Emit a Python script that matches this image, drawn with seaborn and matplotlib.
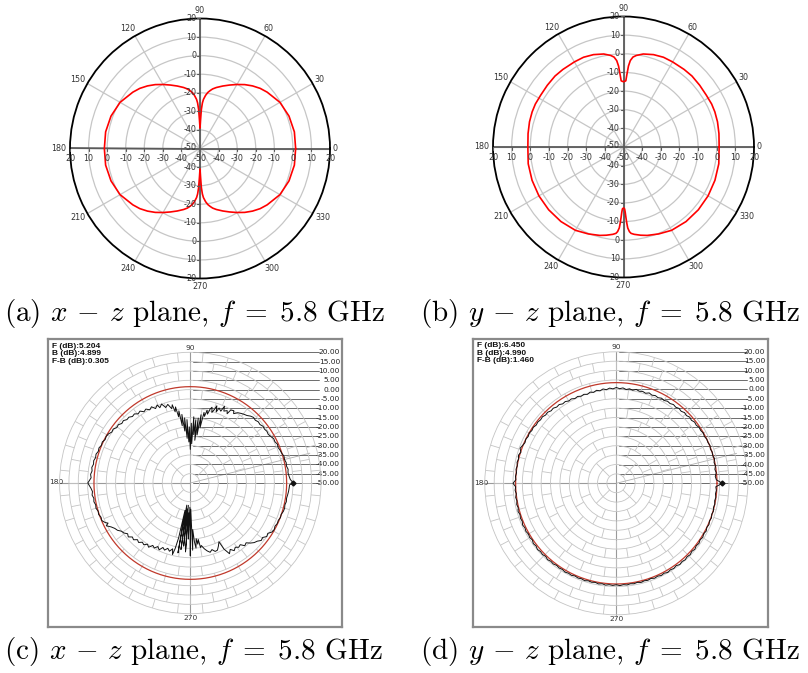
import numpy as np
import matplotlib
matplotlib.use("Agg")
import matplotlib.pyplot as plt
import pandas as pd
import seaborn as sns

sns.set_style("white")
plt.rcParams["font.family"] = ["DejaVu Sans"]
plt.rcParams["mathtext.fontset"] = "cm"
plt.rcParams["axes.unicode_minus"] = False

# ---------------- simulated patterns (dB) ----------------
# x-z plane: one quadrant, the pattern is symmetric about both axes
xz_sim_deg = [0, 10, 20, 30, 40, 45, 50, 55, 60, 65, 70, 75, 78, 80, 82, 84,
              86, 87, 88, 89, 90]
xz_sim_db = [1.5, 1.6, 1.0, -0.3, -2.8, -4.2, -6.0, -8.0, -10.2, -12.3, -14.2,
             -16.0, -17.2, -18.3, -19.5, -21.2, -23.5, -25.5, -29.0, -35.0, -39.0]

# y-z plane: upper right and lower right quadrants (mirror about the vertical axis)
yz_sim_up_deg = [0, 8, 15, 21, 26, 32, 39, 46, 52, 60, 66, 72, 78, 82, 84,
                 85.5, 86.5, 87.3, 88, 90]
yz_sim_up_db = [1.3, 1.7, 2.2, 2.5, 2.6, 2.4, 2.6, 2.9, 2.8, 2.7, 2.7, 2.1, 1.0,
                -0.4, -1.5, -3.5, -6.5, -11.0, -14.5, -15.0]
yz_sim_dn_deg = [360, 350, 340, 330, 320, 310, 300, 292, 285, 281, 277, 275,
                 274, 273, 272.5, 272, 271.5, 271, 270]
yz_sim_dn_db = [1.3, 1.9, 2.2, 2.4, 2.4, 2.2, 1.6, 0.3, -0.9, -1.8, -2.8, -3.5,
                -4.5, -6.5, -9.0, -12.0, -15.0, -16.8, -17.3]

# ---------------- measured patterns (dB) ----------------
xz_meas_deg = [0, 2, 4, 6, 8, 10, 12, 14, 16, 18,
               20, 22, 24, 26, 28, 30, 32, 34, 36, 38,
               40, 42, 44, 46, 48, 50, 52, 54, 56, 58,
               59, 61, 62, 63, 65, 66, 67, 69, 70, 71,
               72, 73, 74, 75, 76, 77, 78, 79, 80, 81,
               82, 83, 84, 85, 86, 87, 88, 89, 90, 91,
               92, 93, 94, 95, 96, 97, 98, 99, 100, 101,
               102, 103, 104, 106, 108, 110, 112, 113, 115, 117,
               119, 121, 123, 125, 127, 129, 131, 133, 135, 137,
               139, 141, 143, 145, 147, 149, 151, 153, 155, 157,
               159, 161, 163, 165, 167, 169, 171, 173, 175, 177,
               180, 183, 185, 187, 189, 191, 193, 195, 197, 199,
               201, 203, 205, 206, 207, 209, 211, 213, 215, 217,
               219, 221, 223, 225, 227, 229, 231, 233, 235, 237,
               239, 241, 243, 245, 247, 249, 251, 253, 255, 256,
               257, 258, 259, 260, 261, 262, 263, 264, 265, 266,
               267, 268, 269, 270, 271, 272, 273, 274, 275, 276,
               277, 278, 279, 280, 282, 284, 286, 288, 290, 292,
               294, 296, 297, 299, 301, 303, 305, 307, 309, 311,
               313, 315, 317, 319, 321, 323, 325, 327, 329, 331,
               333, 335, 337, 339, 341, 343, 345, 347, 349, 351,
               353, 355, 357, 359, 360]
xz_meas_db = [5.2, 3.6, 3.0, 2.6, 2.9, 2.3, 2.5, 2.0, 2.2, 1.5,
              1.2, 0.7, 1.1, 0.4, 0.6, -0.2, -0.8, -0.5, -0.9, -0.6,
              -1.3, -1.0, -1.6, -1.2, -1.8, -2.8, -3.3, -3.9, -4.6, -6.2,
              -4.8, -5.3, -8.0, -6.5, -7.5, -5.0, -8.2, -7.0, -9.5, -6.3,
              -8.8, -10.5, -7.8, -9.0, -12.0, -10.0, -13.5, -11.5, -20.0, -13.0,
              -24.0, -15.0, -27.0, -16.0, -24.0, -14.5, -29.0, -18.0, -32.0, -20.0,
              -28.0, -16.0, -26.0, -15.0, -22.0, -13.0, -19.0, -11.0, -14.0, -8.5,
              -11.0, -7.0, -9.0, -6.2, -7.5, -5.0, -6.5, -4.6, -6.0, -4.2,
              -5.2, -3.8, -4.5, -3.0, -3.6, -2.4, -2.8, -1.8, -2.0, -1.0,
              -1.4, -0.4, -0.7, 0.4, 0.1, 1.1, 1.5, 1.2, 2.0, 1.7,
              2.4, 2.1, 2.8, 2.5, 3.1, 2.8, 3.4, 3.0, 3.6, 3.2,
              4.9, 3.3, 2.6, 3.0, 2.3, 2.6, 2.0, 2.3, 1.6, 1.9,
              1.2, 1.5, 0.2, -1.0, 0.5, -1.5, -2.8, -3.5, -5.0, -5.5,
              -6.8, -6.0, -7.6, -7.0, -8.5, -7.8, -9.2, -8.6, -10.0, -9.0,
              -11.0, -10.2, -11.8, -10.5, -12.5, -11.5, -13.0, -11.8, -13.5, -10.5,
              -14.0, -20.0, -35.0, -12.0, -38.0, -14.0, -36.0, -16.0, -38.0, -13.0,
              -34.0, -20.0, -37.0, -11.0, -36.0, -14.0, -25.0, -18.5, -15.0, -20.0,
              -17.0, -19.5, -15.0, -16.0, -14.0, -12.5, -11.4, -12.5, -11.0, -11.2,
              -13.0, -15.0, -10.3, -6.7, -8.5, -6.8, -8.0, -6.9, -7.5, -5.5,
              -6.2, -4.5, -3.2, -2.5, -1.1, -1.5, 0.0, -0.5, 1.0, 1.4,
              0.9, 1.4, 1.2, 1.7, 1.5, 2.1, 2.3, 2.0, 2.4, 2.2,
              2.5, 2.8, 3.0, 3.2, 5.2]

yz_meas_deg = list(range(0, 362, 2))
yz_meas_db = [6.45, 3.3, 2.8, 3.5, 3.0, 3.6, 3.2, 3.9, 3.4, 3.7,
              3.3, 3.8, 3.4, 3.6, 3.1, 3.5, 3.0, 3.2, 2.6, 2.9,
              2.2, 2.6, 1.9, 2.3, 1.6, 2.0, 1.4, 1.8, 1.2, 1.5,
              0.9, 1.3, 0.7, 1.1, 0.6, 1.2, 0.4, 0.9, 0.5, 1.1,
              0.3, 0.8, 0.2, 0.9, 0.4, 1.0, 0.3, 0.8, 0.1, 0.7,
              0.0, 0.6, -0.1, 0.5, -0.2, 0.4, 0.0, 0.6, 0.2, 0.9,
              0.6, 1.3, 1.0, 1.8, 1.5, 2.2, 1.9, 2.6, 2.3, 2.9,
              2.6, 3.0, 2.7, 3.3, 3.0, 3.5, 3.1, 3.6, 3.2, 3.8,
              4.5, 3.4, 4.2, 3.6, 4.0, 3.5, 3.9, 3.4, 3.8, 3.5,
              4.99, 3.6, 4.0, 3.5, 4.1, 3.7, 4.2, 3.8, 4.4, 3.9,
              4.3, 4.0, 4.6, 4.1, 4.5, 4.0, 4.4, 3.9, 4.6, 4.2,
              4.8, 4.3, 4.6, 4.1, 4.7, 4.2, 4.5, 4.0, 4.4, 4.1,
              4.6, 4.2, 4.5, 4.0, 4.4, 4.1, 4.5, 4.0, 4.3, 3.9,
              4.4, 4.0, 4.5, 4.1, 4.4, 4.0, 4.5, 4.1, 4.4, 4.0,
              4.3, 3.9, 4.4, 4.0, 4.3, 3.9, 4.5, 4.1, 4.6, 4.2,
              4.8, 4.3, 4.7, 4.2, 4.9, 4.4, 4.8, 4.3, 4.7, 4.1,
              4.6, 4.0, 4.4, 3.8, 4.3, 3.7, 4.2, 3.6, 4.0, 3.5,
              3.9, 3.4, 3.8, 3.3, 3.6, 3.2, 3.5, 3.1, 3.4, 3.0,
              6.45]

# reference circles and summary values printed by the measurement software
xz_ref_db = 1.6
yz_ref_db = 3.6
xz_summary = ["F (dB):5.204", "B (dB):4.899", "F-B (dB):0.305"]
yz_summary = ["F (dB):6.450", "B (dB):4.990", "F-B (dB):1.460"]
meas_scale = [20, 15, 10, 5, 0, -5, -10, -15, -20, -25, -30, -35, -40, -45, -50]
sim_rings = [-40, -30, -20, -10, 0, 10, 20]

captions = [r"(a) $x\,-\,z$ plane, $f\;=\;5.8$ GHz",
            r"(b) $y\,-\,z$ plane, $f\;=\;5.8$ GHz",
            r"(c) $x\,-\,z$ plane, $f\;=\;5.8$ GHz",
            r"(d) $y\,-\,z$ plane, $f\;=\;5.8$ GHz"]

W, H = 808, 673
fig = plt.figure(figsize=(W / 100, H / 100), dpi=100)


def rect_px(x0, y0, w, h):
    return [x0 / W, 1 - (y0 + h) / H, w / W, h / H]


def quad_mirror_full(deg, db):
    """Full 0-360 trace from a first-quadrant trace symmetric about both axes."""
    d = np.asarray(deg, float)
    g = np.asarray(db, float)
    q2d, q2g = 180 - d[::-1], g[::-1]
    q3d, q3g = 180 + d, g
    q4d, q4g = 360 - d[::-1], g[::-1]
    return (np.concatenate([d, q2d, q3d, q4d]),
            np.concatenate([g, q2g, q3g, q4g]))


def half_mirror(up_deg, up_db, dn_deg, dn_db):
    """Full trace from right-hand quadrants, mirrored about the vertical axis."""
    ud = np.asarray(up_deg, float)
    ug = np.asarray(up_db, float)
    dd = np.asarray(dn_deg, float)
    dg = np.asarray(dn_db, float)
    deg = np.concatenate([ud, 180 - ud[::-1], 180 + (360 - dd), dd[::-1]])
    db = np.concatenate([ug, ug[::-1], dg, dg[::-1]])
    return deg, db


def draw_trace(ax, deg, db, color, lw):
    df = pd.DataFrame({"theta": np.deg2rad(deg), "gain": db})
    sns.lineplot(data=df, x="theta", y="gain", ax=ax, sort=False,
                 estimator=None, color=color, lw=lw, legend=False)
    ax.set_xlabel("")
    ax.set_ylabel("")


# ---------------- simulated panels ----------------
def sim_panel(cx, cy, R, deg, db):
    rect = rect_px(cx - R, cy - R, 2 * R, 2 * R)
    ax = fig.add_axes(rect, projection="polar")
    ax.set_ylim(-50, 20)
    ax.set_yticks(sim_rings[:-1])
    ax.set_xticks(np.deg2rad(np.arange(0, 360, 30)))
    ax.set_xticklabels([])
    ax.set_yticklabels([])
    ax.grid(True, color="#c6c6c6", lw=0.9)
    ax.spines["polar"].set_color("black")
    ax.spines["polar"].set_linewidth(1.3)
    ax.vlines(np.deg2rad([0, 90, 180, 270]), -50, 20, color="#5a5a5a",
              lw=1.3, zorder=2)
    draw_trace(ax, deg, db, "#ff0000", 1.2)
    for a in range(0, 360, 30):
        t = np.deg2rad(a)
        lab = str(a)
        ox = 8 * np.cos(t) + np.sign(round(np.cos(t), 3)) * 3 * (len(lab) - 2)
        oy = 8 * np.sin(t)
        ax.annotate(lab, xy=(t, 20), xytext=(ox, oy), textcoords="offset pixels",
                    ha="center", va="center", fontsize=5.8, color="#333333",
                    annotation_clip=False)
    ov = fig.add_axes(rect)
    ov.set_xlim(-70, 70)
    ov.set_ylim(-70, 70)
    ov.axis("off")
    ov.patch.set_alpha(0)
    tk = dict(color="#5a5a5a", lw=0.8)
    txt = dict(fontsize=5.8, color="#333333")
    for v in sim_rings:
        d = v + 50
        for s in (-1, 1):
            ov.plot([s * d, s * d], [0, -1.4], **tk)
            ov.plot([0, -1.4], [s * d, s * d], **tk)
            ov.text(s * d, -3.0, str(v), ha="center", va="top", **txt)
            ov.text(-2.0, s * d, str(v), ha="right", va="center", **txt)
    ov.text(0, -3.0, "-50", ha="center", va="top", **txt)
    ov.text(-2.0, 0.8, "-50", ha="right", va="center", **txt)


d_a, g_a = quad_mirror_full(xz_sim_deg, xz_sim_db)
sim_panel(200, 148.5, 130, d_a, g_a)
d_b, g_b = half_mirror(yz_sim_up_deg, yz_sim_up_db, yz_sim_dn_deg, yz_sim_dn_db)
sim_panel(623.5, 147, 130.5, d_b, g_b)


# ---------------- measured panels ----------------
def meas_panel(cx, cy, R, fx0, fy0, fx1, fy1, lab_right, line_end,
               deg, db, ref_db, summary):
    k = R / 70.0  # pixels per dB
    # frame in dB units centred on the pattern origin
    frame = fig.add_axes(rect_px(fx0, fy0, fx1 - fx0, fy1 - fy0))
    frame.set_xlim((fx0 - cx) / k, (fx1 - cx) / k)
    frame.set_ylim((cy - fy1) / k, (cy - fy0) / k)
    frame.set_xticks([])
    frame.set_yticks([])
    for sp in frame.spines.values():
        sp.set_color("#8a8a8a")
        sp.set_linewidth(1.6)
    # axis lines and dB scale leaders
    frame.plot([(fx0 + 10 - cx) / k, 0], [0, 0], color="#9a9a9a", lw=0.8, zorder=1)
    frame.plot([0, 0], [-70, 70], color="#9a9a9a", lw=0.8, zorder=1)
    xr = (lab_right - cx) / k
    xe = (line_end - cx) / k
    for v in meas_scale:
        y = v + 50
        frame.plot([1.5, xe], [y, y], color="#555555", lw=0.6, zorder=3)
        frame.text(xr, y, f"{v:.2f}", ha="right", va="center", fontsize=5.4,
                   color="#222222", zorder=4)
    t14 = np.deg2rad(14)
    frame.plot([0, 66 * np.cos(t14)], [0, 66 * np.sin(t14)],
               color="#b0b0b0", lw=0.6, zorder=1)
    frame.text(0, 72.3, "90", ha="center", va="center", fontsize=5.4, color="#333333")
    frame.text(0, -72.5, "270", ha="center", va="center", fontsize=5.4, color="#333333")
    frame.text((fx0 + 1.5 - cx) / k, 0.4, "180", ha="left", va="center",
               fontsize=5.4, color="#333333")
    for i, s in enumerate(summary):
        frame.text((fx0 + 4 - cx) / k, (cy - (fy0 + 7 + 7.6 * i)) / k, s,
                   ha="left", va="center", fontsize=6.0, fontweight="bold",
                   family="Liberation Sans", color="#111111")

    ax = fig.add_axes(rect_px(cx - R, cy - R, 2 * R, 2 * R), projection="polar")
    ax.patch.set_alpha(0)
    ax.set_ylim(-50, 20)
    ax.set_yticks(np.arange(-45, 20, 5))
    ax.set_xticks([])
    ax.set_yticklabels([])
    ax.yaxis.grid(True, color="#c4c4c4", lw=0.6)
    ax.xaxis.grid(False)
    ax.spines["polar"].set_color("#c4c4c4")
    ax.spines["polar"].set_linewidth(0.6)
    # staggered radial grid: spoke count grows with radius
    edges = np.arange(-50, 21, 5)
    for i in range(1, len(edges) - 1):
        r0, r1 = edges[i], edges[i + 1]
        rmid = ((r0 + r1) / 2 + 50) * k
        n = max(4, int(round(2 * np.pi * rmid / 24 / 4)) * 4)
        step = 360.0 / n
        off = (i % 2) * step / 2
        ang = np.deg2rad(off + step * np.arange(n))
        ax.vlines(ang, r0, r1, color="#c4c4c4", lw=0.6, zorder=1)
    ref_deg = np.arange(0, 361, 1)
    draw_trace(ax, ref_deg, np.full(ref_deg.shape, ref_db), "#c0392b", 0.9)
    draw_trace(ax, deg, db, "#111111", 0.7)
    ax.plot([0], [db[0]], marker="D", ms=2.5, color="#111111")


meas_panel(190.3, 483, 130.7, 48, 339, 342, 627, 340, 319,
           xz_meas_deg, xz_meas_db, xz_ref_db, xz_summary)
meas_panel(616.3, 483.3, 131.5, 473, 338.5, 768, 627, 765, 747,
           yz_meas_deg, yz_meas_db, yz_ref_db, yz_summary)

# ---------------- captions ----------------
for (x, y), c in zip([(194, 314), (610, 314), (194, 651), (610, 651)], captions):
    fig.text(x / W, 1 - y / H, c, ha="center", va="center", fontsize=21,
             family="cmr10", color="black")

fig.savefig("out.png", dpi=100)
